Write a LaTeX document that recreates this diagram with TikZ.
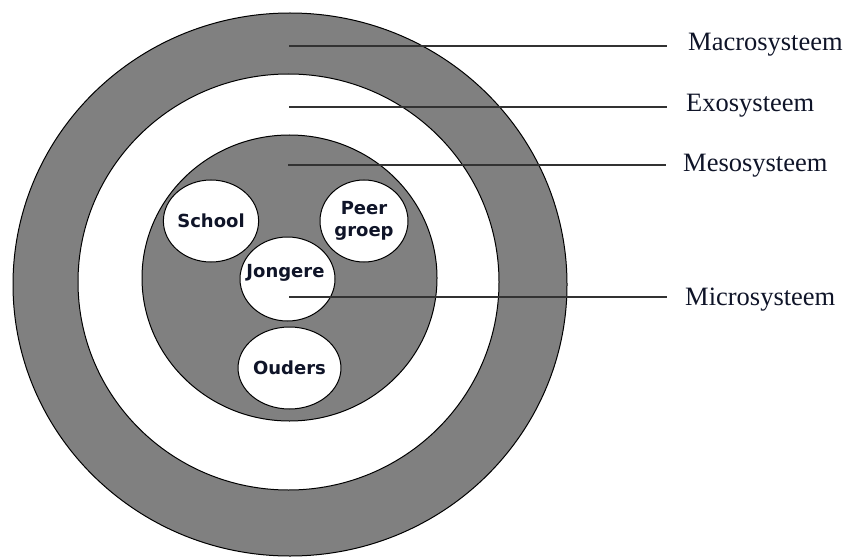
\documentclass[tikz,border=0pt]{standalone}
\usepackage{fontspec}
\setmainfont{Liberation Serif}
\newfontfamily\boxfont{DejaVu Sans}[BoldFont={DejaVu Sans Bold}]
\usetikzlibrary{shapes.geometric}
\definecolor{ringgray}{RGB}{128,128,128}
\definecolor{leadercol}{RGB}{50,50,50}
\definecolor{txtcol}{RGB}{15,20,40}
\begin{document}
\begin{tikzpicture}[x=1pt,y=1pt,
  ring/.style={ellipse,draw=black,line width=1pt,inner sep=0pt},
  ringgrey/.style={ring,fill=ringgray},
  ringwhite/.style={ring,fill=white},
  small/.style={ellipse,draw=black,line width=1pt,fill=white,inner sep=0pt,
    font=\boxfont\bfseries\fontsize{18}{21.5}\selectfont,text=txtcol,align=center},
  leader/.style={draw=leadercol,line width=1.5pt},
  lbl/.style={anchor=base west,inner sep=0pt,font=\fontsize{26.5}{30}\selectfont,text=txtcol}]
\useasboundingbox (0,0) rectangle (848,558);
% rings
\node[ringgrey, minimum width=554, minimum height=543] (macro) at (290,273.5) {};
\node[ringwhite, minimum width=421, minimum height=416] (exo) at (288.5,276) {};
\node[ringgrey, minimum width=295, minimum height=286] (meso) at (289.5,280) {};
% micro circles
\node[small, minimum width=91, minimum height=82] (school) at (211,337) {School};
\node[small, minimum width=88, minimum height=82] (peer) at (364,337) {Peer\\groep};
\node[small, minimum width=95, minimum height=84] (jong) at (287.5,279) {};
\node[small, minimum width=95, minimum height=82] (ouders) at (289.5,190) {Ouders};
% labels
\node[lbl] (lmacro) at (688,507) {Macrosysteem};
\node[lbl] (lexo) at (686,446) {Exosysteem};
\node[lbl] (lmeso) at (683,386) {Mesosysteem};
\node[lbl] (lmicro) at (685,253) {Microsysteem};
% leader start points
\coordinate (pmacro) at (289,512);
\coordinate (pexo) at (289,451);
\coordinate (pmeso) at (288,393);
\coordinate (pmicro) at (289,261);
\coordinate (emacro) at (667,512);
\coordinate (eexo) at (667,451);
\coordinate (emeso) at (666,393);
\coordinate (emicro) at (667,261);
\draw[leader] (pmacro) -- (emacro);
\draw[leader] (pexo) -- (eexo);
\draw[leader] (pmeso) -- (emeso);
\draw[leader] (pmicro) -- (emicro);
\node[font=\boxfont\bfseries\fontsize{18}{21.5}\selectfont,text=txtcol,inner sep=0pt] (jtext) at ([xshift=-2,yshift=6]jong.center) {Jongere};
\end{tikzpicture}
\end{document}
